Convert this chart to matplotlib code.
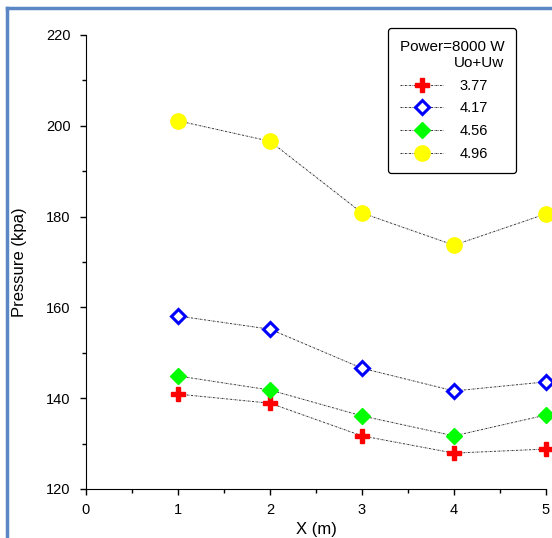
import matplotlib
matplotlib.use('Agg')
import matplotlib.pyplot as plt
from matplotlib.lines import Line2D

plt.rcParams['font.family'] = ['Liberation Sans', 'DejaVu Sans']
plt.rcParams['font.size'] = 10.5

# data
x = [1, 2, 3, 4, 5]
p_377 = [140.9, 138.9, 131.7, 127.9, 128.8]
p_417 = [158.1, 155.2, 146.6, 141.6, 143.6]
p_456 = [144.9, 141.8, 136.1, 131.7, 136.3]
p_496 = [201.1, 196.6, 180.8, 173.7, 180.6]
labels = ['3.77', '4.17', '4.56', '4.96']

fig = plt.figure(figsize=(5.52, 5.38), dpi=100)
ax = fig.add_axes([86 / 552, 1 - 489 / 538, 460 / 552, 454 / 538])

# blue frame round the figure (left and top only visible)
fig.add_artist(Line2D([7 / 552, 7 / 552], [0, 1 - 8 / 538], transform=fig.transFigure,
                      color='#5b87c5', lw=2.5))
fig.add_artist(Line2D([7 / 552, 1], [1 - 8 / 538, 1 - 8 / 538], transform=fig.transFigure,
                      color='#5b87c5', lw=2.5))

line_kw = dict(color='#333333', lw=0.7, linestyle=(0, (2, 1, 0.5, 1)))
h1, = ax.plot(x, p_377, marker='P', ms=10, mfc='red', mec='red', **line_kw)
h2, = ax.plot(x, p_417, marker='D', ms=7, mfc='white', mec='blue', mew=2.2, **line_kw)
h3, = ax.plot(x, p_456, marker='D', ms=8, mfc='#00ff00', mec='#00ff00', **line_kw)
h4, = ax.plot(x, p_496, marker='o', ms=11, mfc='yellow', mec='yellow', **line_kw)
for h in (h1, h2, h3, h4):
    h.set_clip_on(False)

ax.set_xlim(0, 5)
ax.set_ylim(120, 220)
ax.set_xticks([0, 1, 2, 3, 4, 5])
ax.set_xticks([0.5, 1.5, 2.5, 3.5, 4.5], minor=True)
ax.set_yticks([120, 140, 160, 180, 200, 220])
ax.set_yticks([130, 150, 170, 190, 210], minor=True)
ax.tick_params(which='major', direction='out', length=4, width=1)
ax.tick_params(which='minor', direction='out', length=3, width=1)
ax.tick_params(axis='x', pad=6)
ax.tick_params(axis='y', pad=7)
ax.spines['top'].set_visible(False)
ax.spines['right'].set_visible(False)
ax.set_xlabel('X (m)', fontsize=12, labelpad=4)
ax.set_ylabel('Pressure (kpa)', fontsize=12, labelpad=14)

leg = ax.legend([h1, h2, h3, h4], labels, title='Power=8000 W\nUo+Uw', title_fontsize=11,
                fontsize=10.5, loc='upper left', bbox_to_anchor=(302 / 460, 1 + 7 / 454),
                borderaxespad=0, frameon=True, fancybox=True, edgecolor='black',
                framealpha=1, handlelength=3.0, labelspacing=0.6, alignment='left',
                borderpad=0.8, handletextpad=1.1)
leg.get_frame().set_linewidth(0.9)
leg.get_title().set_multialignment('right')

plt.savefig('out.png', dpi=100)
